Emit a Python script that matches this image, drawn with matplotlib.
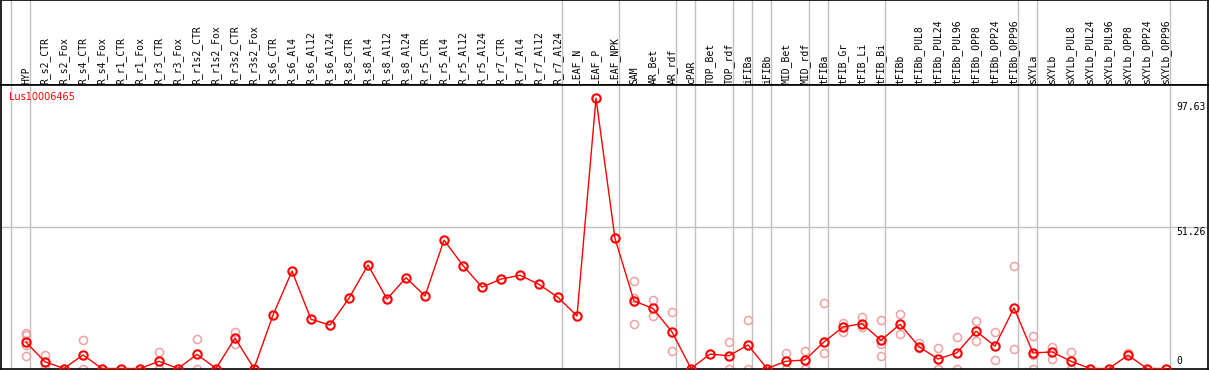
import numpy as np
import matplotlib
matplotlib.use("Agg")
import matplotlib.pyplot as plt
from matplotlib.transforms import blended_transform_factory

# column labels (one per sample)
labels = ["HYP",
          "R_s2_CTR", "R_s2_Fox", "R_s4_CTR", "R_s4_Fox", "R_r1_CTR", "R_r1_Fox",
          "R_r3_CTR", "R_r3_Fox", "R_r1s2_CTR", "R_r1s2_Fox", "R_r3s2_CTR", "R_r3s2_Fox",
          "R_s6_CTR", "R_s6_Al4", "R_s6_Al12", "R_s6_Al24",
          "R_s8_CTR", "R_s8_Al4", "R_s8_Al12", "R_s8_Al24",
          "R_r5_CTR", "R_r5_Al4", "R_r5_Al12", "R_r5_Al24",
          "R_r7_CTR", "R_r7_Al4", "R_r7_Al12", "R_r7_Al24",
          "LEAF_N", "LEAF_P", "LEAF_NPK",
          "SAM", "AR_Bet", "AR_rdf", "cPAR", "TOP_Bet", "TOP_rdf",
          "iFIBa", "iFIBb", "MID_Bet", "MID_rdf",
          "tFIBa", "tFIB_Gr", "tFIB_Li", "tFIB_Bi",
          "tFIBb", "tFIBb_PUL8", "tFIBb_PUL24", "tFIBb_PUL96",
          "tFIBb_OPP8", "tFIBb_OPP24", "tFIBb_OPP96",
          "sXYLa", "sXYLb", "sXYLb_PUL8", "sXYLb_PUL24", "sXYLb_PUL96",
          "sXYLb_OPP8", "sXYLb_OPP24", "sXYLb_OPP96"]

# mean expression per sample
means = [9.5, 2.4, 0, 4.9, 0, 0, 0, 2.6, 0, 5.1, 0, 11.0, 0,
         19.3, 35.2, 17.8, 15.7, 25.4, 37.4, 25.1, 32.8,
         26.2, 46.4, 37.2, 29.4, 32.3, 33.7, 30.4, 25.7,
         19.0, 97.63, 47.0,
         24.4, 21.7, 13.2, 0, 5.2, 4.6, 8.5, 0, 2.6, 3.1,
         9.6, 15.0, 16.2, 10.2, 16.0, 7.9, 3.4, 5.7, 13.5, 8.1, 21.9,
         5.6, 6.0, 2.6, 0, 0, 4.8, 0, 0]

# individual replicates per sample
replicates = [[12.7, 12.2, 8.5, 4.5], [4.9, 0], [], [10.2, 0], [], [], [],
              [5.8, 0], [], [10.5, 0], [], [13.2, 9.0], [],
              [], [], [], [], [], [], [], [],
              [], [], [], [], [], [], [], [],
              [], [], [],
              [31.6, 25.4, 16.1], [24.8, 19.0], [20.3, 6.3], [], [], [9.6, 0],
              [17.5, 0], [], [5.6, 0], [6.3, 0],
              [23.6, 5.5], [16.4, 13.3], [18.5, 14.9], [17.4, 9.0, 4.5],
              [19.6, 12.4], [9.1, 7.3], [7.3, 0], [11.3, 0],
              [17.0, 9.8], [13.1, 3.0], [36.9, 6.9],
              [11.7, 4.9, 0], [7.8, 3.4], [6.0, 0], [], [], [5.7], [], []]

# first column of each sample group (vertical separators)
group_starts = [0, 1, 29, 32, 35, 36, 38, 39, 40, 42, 43, 46, 53, 54, 61]

y_ticks = [97.63, 51.26, 0]
gene = "Lus10006465"

W, H = 1209, 370
fig = plt.figure(figsize=(W / 100, H / 100), dpi=100)

x = np.arange(len(labels))
xlim = ((1 - 26) / 19, (1208 - 26) / 19)
grey = "#c0c0c0"
sep = np.array(group_starts) - 15 / 19

# header with the sample names
hdr = fig.add_axes([1 / W, (H - 85) / H, 1207 / W, 85 / H])
hdr.set_xlim(*xlim)
hdr.set_ylim(85, 0)
hdr.set_xticks([])
hdr.set_yticks([])
for s in ["left", "right", "top", "bottom"]:
    hdr.spines[s].set_linewidth(1.2)
for s in sep:
    hdr.axvline(s, color=grey, lw=1)
for i, lab in enumerate(labels):
    hdr.text(i, 83.5, lab, rotation=90, ha="center", va="bottom",
             family="DejaVu Sans Mono", fontsize=7)

# plot area
ax = fig.add_axes([1 / W, 1 / H, 1207 / W, 284 / H])
ax.set_xlim(*xlim)
ax.set_ylim(-0.5 / 2.7676, 283.5 / 2.7676)
ax.set_xticks([])
ax.set_yticks([])
for s in ["left", "right", "top", "bottom"]:
    ax.spines[s].set_linewidth(1.2)
for s in sep:
    ax.axvline(s, color=grey, lw=1, zorder=1)
ax.axhline(y_ticks[1], color=grey, lw=1, zorder=1)

rx = [i for i, r in enumerate(replicates) for _ in r]
ry = [v for r in replicates for v in r]
ax.plot(rx, ry, ls="none", marker="o", ms=5.8, mfc="none", mec="#f0a0a0",
        mew=1.1, zorder=2)
ax.plot(x, means, color="red", lw=1, zorder=3)
ax.plot(x, means, ls="none", marker="o", ms=6.0, mfc="none", mec="red",
        mew=1.5, zorder=4)

trans = blended_transform_factory(ax.transAxes, ax.transData)
xt = (1176 - 1) / 1207
ax.text(xt, y_ticks[0] - 1.2, "97.63", transform=trans, ha="left", va="top",
        family="DejaVu Sans Mono", fontsize=7)
ax.text(xt, y_ticks[1] - 0.3, "51.26", transform=trans, ha="left", va="top",
        family="DejaVu Sans Mono", fontsize=7)
ax.text(xt, y_ticks[2] + 0.9, "0", transform=trans, ha="left", va="bottom",
        family="DejaVu Sans Mono", fontsize=7)

ax.text(8 / 1207, (369 - 97) / 284, gene, transform=ax.transAxes, ha="left",
        va="center", color="red", fontsize=7)

fig.savefig("out.png", dpi=100)
